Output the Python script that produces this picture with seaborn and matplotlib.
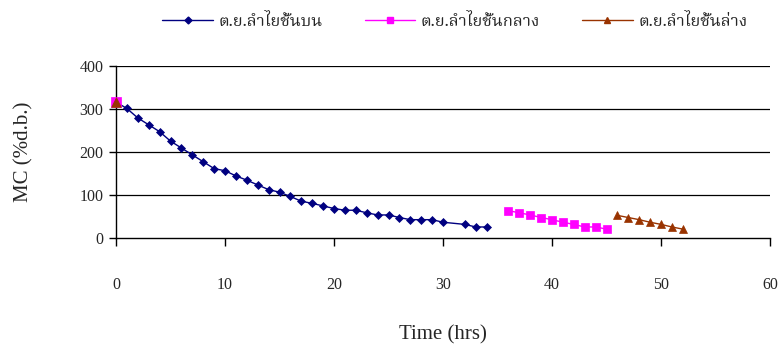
import numpy as np
import pandas as pd
import matplotlib
matplotlib.use("Agg")
import matplotlib.pyplot as plt
from matplotlib.lines import Line2D
import seaborn as sns

# ---- data ----
series_names = ["ต.ย.ลำไยชั้นบน", "ต.ย.ลำไยชั้นกลาง", "ต.ย.ลำไยชั้นล่าง"]

t_top = [0, 1, 2, 3, 4, 5, 6, 7, 8, 9, 10, 11, 12, 13, 14, 15, 16, 17, 18, 19,
         20, 21, 22, 23, 24, 25, 26, 27, 28, 29, 30, 32, 33, 34]
mc_top = [316, 301, 279, 263, 247, 225, 209, 193, 177, 161, 156, 144, 134, 123,
          112, 106, 96, 85, 80, 74, 68, 64, 64, 58, 53, 53, 47, 42, 42, 42, 36,
          31, 25, 25]

t_mid = [0, 36, 37, 38, 39, 40, 41, 42, 43, 44, 45]
mc_mid = [316, 63, 58, 53, 47, 42, 36, 31, 25, 25, 20]

t_low = [0, 46, 47, 48, 49, 50, 51, 52]
mc_low = [316, 52, 47, 42, 36, 31, 25, 20]

x_ticks = [0, 10, 20, 30, 40, 50, 60]
y_ticks = [0, 100, 200, 300, 400]

colors = {series_names[0]: "#000080", series_names[1]: "#FF00FF", series_names[2]: "#993300"}
markers = {series_names[0]: "D", series_names[1]: "s", series_names[2]: "^"}
msizes = {series_names[0]: 4.5, series_names[1]: 6, series_names[2]: 6}

data = [(series_names[0], t_top, mc_top),
        (series_names[1], t_mid, mc_mid),
        (series_names[2], t_low, mc_low)]

sns.set_theme(style="white")
serif = ["Liberation Serif", "DejaVu Serif"]
plt.rcParams["font.family"] = serif

fig = plt.figure(figsize=(7.81, 3.52), dpi=100)
ax = fig.add_axes([116 / 781, 1 - 237.7 / 352, (770 - 116) / 781, (237.7 - 66) / 352])

# connected runs (the t=0 reading of middle/lower layers stands alone in the original)
for name, ts, ys in data:
    start = 0 if name == series_names[0] else 1
    sub = pd.DataFrame({"t": ts[start:], "mc": ys[start:]})
    sns.lineplot(data=sub, x="t", y="mc", estimator=None, sort=False,
                 color=colors[name], marker=markers[name], markersize=msizes[name],
                 markeredgewidth=0.5, markeredgecolor=colors[name],
                 linewidth=1.0, ax=ax, legend=False, zorder=3)

# isolated starting readings
for k, (name, ts, ys) in enumerate(data[1:]):
    sub = pd.DataFrame({"t": ts[:1], "mc": ys[:1]})
    sns.scatterplot(data=sub, x="t", y="mc", color=colors[name], marker=markers[name],
                    s=(msizes[name] + 1) ** 2, edgecolor=colors[name], linewidth=0.5,
                    ax=ax, legend=False, zorder=4 + k, clip_on=False)

ax.set_xlim(0, 60)
ax.set_ylim(0, 400)
ax.set_xticks(x_ticks)
ax.set_yticks(y_ticks)
ax.set_xticklabels([str(v) for v in x_ticks], fontsize=11.5, family=serif)
ax.set_yticklabels([str(v) for v in y_ticks], fontsize=11.5, family=serif)

ax.grid(False)
for yv in y_ticks[1:]:
    ax.axhline(yv, color="black", linewidth=0.9, zorder=1)

for s in ["top", "right"]:
    ax.spines[s].set_visible(False)
for s in ["left", "bottom"]:
    ax.spines[s].set_color("black")
    ax.spines[s].set_linewidth(1.0)

ax.tick_params(axis="x", direction="out", length=6, width=1, color="black", pad=22, bottom=True)
ax.tick_params(axis="y", direction="out", length=5, width=1, color="black", pad=4, left=True)

ax.set_xlabel("Time (hrs)", fontsize=15, family=serif, labelpad=23.5)
ax.set_ylabel("MC (%d.b.)", fontsize=15, family=serif, labelpad=33)

handles = [Line2D([0], [0], color=colors[n], marker=markers[n], markersize=msizes[n] - 1,
                  markeredgecolor=colors[n], linewidth=1.0) for n in series_names]
thai = ["Noto Serif Thai", "DejaVu Sans"]
leg = fig.legend(handles, series_names, loc="center", bbox_to_anchor=(0.5826, 0.94),
                 ncol=3, frameon=False, handlelength=3.05, handletextpad=0.33,
                 columnspacing=2.5, prop={"family": thai, "size": 12})

fig.savefig("out.png", dpi=100, facecolor="white")
